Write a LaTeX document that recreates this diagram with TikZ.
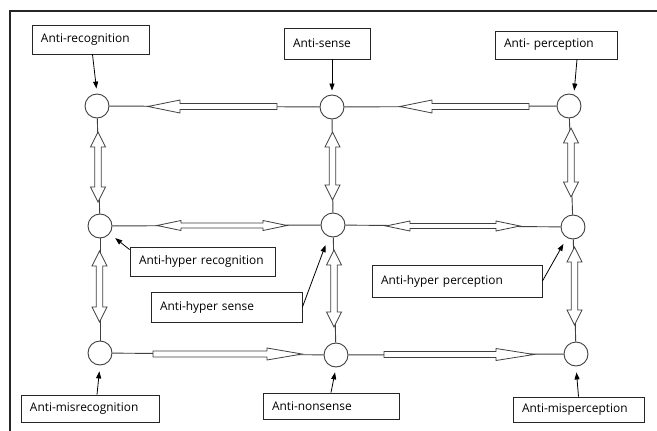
\documentclass[tikz,border=0pt]{standalone}
\usepackage{fontspec}
\setmainfont{Open Sans}
\usetikzlibrary{arrows.meta,calc}
\newcommand\sglarrow[7]{\begin{scope}[shift={(#1,#2)},rotate=#3]
\path[hollow] (0pt,0pt) -- (-#5pt,#7pt) -- (-#5pt,#6pt) -- (-#4pt,#6pt) -- (-#4pt,-#6pt) -- (-#5pt,-#6pt) -- (-#5pt,-#7pt) -- cycle;
\end{scope}}
\newcommand\dblarrow[7]{\begin{scope}[shift={(#1,#2)},rotate=#3]
\pgfmathsetmacro\dbb{#4-#5}
\path[hollow] (#4pt,0pt) -- (\dbb pt,#7pt) -- (\dbb pt,#6pt) -- (-\dbb pt,#6pt) -- (-\dbb pt,#7pt) -- (-#4pt,0pt) -- (-\dbb pt,-#7pt) -- (-\dbb pt,-#6pt) -- (\dbb pt,-#6pt) -- (\dbb pt,-#7pt) -- cycle;
\end{scope}}
\newcommand\lt[1]{\makebox[\linewidth][l]{#1}}
\begin{document}
\begin{tikzpicture}[x=1pt,y=-1pt,
  lbl/.style={draw=black!85, line width=0.9pt, fill=white, inner xsep=9pt, inner ysep=0pt, align=left, font=\fontsize{11.9}{14}\selectfont, text=black},
  circ/.style={circle, draw=black!75, line width=0.9pt, minimum size=24pt, inner sep=0pt, fill=white},
  link/.style={draw=black!75, line width=0.9pt},
  lab/.style={draw=black, line width=0.8pt, -{Triangle[length=7pt,width=5pt]}},
  hollow/.style={draw=black!75, line width=0.8pt, fill=white, line join=miter}]
\useasboundingbox (0,0) rectangle (657,431);
\fill[white] (0,0) rectangle (657,431);
\draw[line width=2pt, draw=black!85] (10,431) -- (10,11) -- (657,11);

% circles
\node[circ] (c11) at (97,106) {};
\node[circ] (c12) at (332,107) {};
\node[circ] (c13) at (569,106) {};
\node[circ] (c21) at (100,226) {};
\node[circ] (c22) at (333,225) {};
\node[circ] (c23) at (573,227) {};
\node[circ] (c31) at (100,353) {};
\node[circ] (c32) at (336,355) {};
\node[circ] (c33) at (576,354) {};

% links
\draw[link] (c11) -- (c12);
\draw[link] (c12) -- (c13);
\draw[link] (c21) -- (c22);
\draw[link] (c22) -- (c23);
\draw[link] (c31) -- (c32);
\draw[link] (c32) -- (c33);
\draw[link] (c11) -- (c21);
\draw[link] (c21) -- (c31);
\draw[link] (c12) -- (c22);
\draw[link] (c22) -- (c32);
\draw[link] (c13) -- (c23);
\draw[link] (c23) -- (c33);

% block arrows
\sglarrow{148}{106.5}{180}{129}{32}{3}{6.5}
\sglarrow{400}{106.5}{180}{129}{32}{3}{6.5}
\sglarrow{302}{354}{0}{149}{35}{3}{6}
\sglarrow{534}{354.5}{0}{150}{38}{3}{6}
\dblarrow{222}{225.5}{0}{65}{24}{2.5}{5}
\dblarrow{453}{226}{0}{67}{24}{2.5}{5}
\dblarrow{98}{167}{90}{35}{15}{3.2}{7.5}
\dblarrow{99.5}{286.5}{90}{35.5}{15}{3.2}{7.5}
\dblarrow{332.5}{166}{90}{34}{15}{3.2}{7.5}
\dblarrow{334}{288.5}{90}{38.5}{15}{3.2}{7.5}
\dblarrow{571}{162.5}{90}{34.5}{15}{3.2}{7.5}
\dblarrow{574.5}{286}{90}{39}{15}{3.2}{7.5}

% labels
\node[lbl, minimum height=29pt, text width=99pt] (rec) at (90.5,39.5) {\lt{Anti-recognition}};
\node[lbl, minimum height=31pt, text width=68pt] (sense) at (327,43.5) {\lt{Anti-sense}};
\node[lbl, minimum height=28pt, text width=104pt] (perc) at (556,45) {\lt{Anti- perception}};
\node[lbl, minimum height=29pt, text width=127pt] (hrec) at (202.5,261.5) {\lt{Anti-hyper recognition}};
\node[lbl, minimum height=30pt, text width=133pt] (hsense) at (226.5,307) {\lt{Anti-hyper sense}};
\node[lbl, minimum height=32pt, text width=152pt] (hperc) at (457,281) {\lt{Anti-hyper perception}};
\node[lbl, minimum height=27pt, text width=120pt] (mrec) at (90,408.5) {\lt{Anti-misrecognition}};
\node[lbl, minimum height=26pt, text width=118pt] (nons) at (331,406) {\lt{Anti-nonsense}};
\node[lbl, minimum height=25pt, text width=113pt] (mperc) at (578.5,409.5) {\lt{Anti-misperception}};

% label arrows
\draw[lab, shorten >=5pt] ([xshift=2pt]rec.south) -- (c11.north);
\draw[lab, shorten >=4pt] ([xshift=5pt]sense.south) -- (c12.north);
\draw[lab, shorten >=3pt] ([xshift=21pt]perc.south) -- ([xshift=5pt]c13.north);
\draw[lab, shorten >=7pt] ([yshift=-3pt]hrec.north west) -- (c21);
\draw[lab, shorten >=9pt] (hsense.east) -- (c22);
\draw[lab, shorten >=7pt] (hperc.east) -- (c23);
\draw[lab, shorten >=6pt] ([xshift=7pt]mrec.north) -- (c31.south);
\draw[lab, shorten >=5pt] (nons.north) -- (c32.south);
\draw[lab, shorten >=6pt] (mperc.north) -- (c33.south);
\end{tikzpicture}
\end{document}
